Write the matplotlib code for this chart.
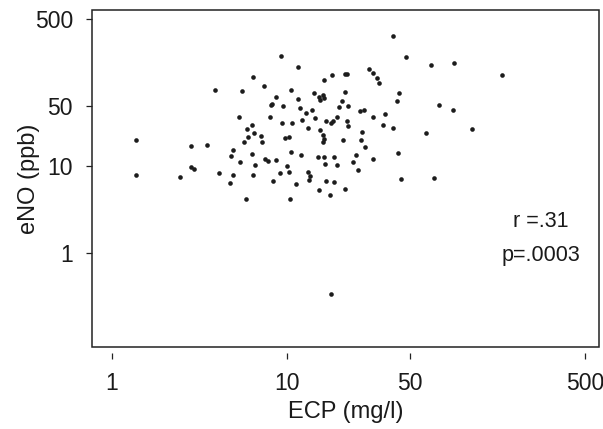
import matplotlib
matplotlib.use("Agg")
import matplotlib.pyplot as plt
from matplotlib.patches import Rectangle

plt.rcParams['font.family'] = ['Liberation Sans', 'DejaVu Sans']

# ECP (mg/l) and eNO (ppb)
ecp = [9.2, 11.6, 6.4, 7.4, 3.9, 5.5, 10.6, 8.6, 11.5, 14.3,
       15.2, 15.4, 16.1, 16.3, 16.3, 18.1, 21.4, 21.9, 21.4, 20.7,
       19.8, 22.4, 8.05, 8.2, 9.5, 11.8, 13.8, 12.9, 5.3, 8.0,
       9.4, 10.7, 12.2, 14.5, 16.6, 17.9, 18.2, 19.2, 21.9, 22.4,
       6.3, 5.9, 6.5, 6.0, 7.1, 7.2, 5.7, 9.7, 10.2, 13.1,
       15.5, 16.0, 16.2, 16.1, 20.8, 1.38, 1.38, 2.85, 3.5, 2.85,
       2.94, 2.45, 4.1, 4.95, 4.8, 5.4, 6.3, 6.6, 7.5, 7.8,
       8.6, 10.5, 12.0, 15.1, 16.2, 18.5, 16.4, 19.4, 10.0, 9.1,
       10.2, 13.2, 13.5, 13.3, 4.95, 6.4, 8.3, 4.7, 11.3, 16.6,
       18.5, 15.2, 17.6, 21.4, 5.8, 10.4, 17.9, 40, 48, 66,
       90, 168, 29.5, 31, 32.8, 33.6, 26.1, 27.6, 43.4, 42.4,
       74, 89, 31, 36, 35.4, 40, 62, 114, 26.9, 26.3,
       27.8, 24.8, 23.9, 25.3, 31.1, 43, 44.6, 69]
eno = [189, 141, 107, 85, 76, 73, 75, 63, 59, 70,
       63, 58, 66, 62, 99, 112, 116, 115, 72, 56,
       48, 50, 51, 53, 50, 47, 45, 41, 37, 37,
       32, 32, 34, 36, 33, 32, 33, 37, 33, 29,
       30, 27, 24, 22, 22.5, 19, 19, 21, 22, 28,
       26, 23, 20.5, 19, 20, 20, 7.9, 17, 17.5, 9.7,
       9.3, 7.5, 8.4, 15.4, 13, 11.3, 13.9, 10.3, 12.2, 11.5,
       11.7, 14.8, 13.5, 12.9, 12.9, 12.9, 10.5, 10.4, 10.1, 8.4,
       8.7, 8.7, 7.8, 7.0, 7.9, 7.9, 6.7, 6.5, 6.2, 6.8,
       6.6, 5.3, 4.7, 5.5, 4.2, 4.2, 0.34, 320, 181, 149,
       154, 112, 131, 118, 103, 92, 43, 45, 70, 56,
       51, 45, 37, 40, 30, 28, 24.5, 27, 24.7, 20,
       16.8, 13.5, 11.1, 9.0, 12.2, 14.2, 7.2, 7.3]

xticks = [1, 10, 50, 500]
yticks = [1, 10, 50, 500]
stats = ["r =.31", "p=.0003"]

fig = plt.figure(figsize=(6.03, 4.29), dpi=100)
ax = fig.add_axes([92.3 / 603, 1 - 347 / 429, (599 - 92.3) / 603, (347 - 10) / 429])

ax.scatter(ecp, eno, s=11, color='#1c1c1c', linewidths=0, zorder=3)

ax.set_xscale('log')
ax.set_yscale('log')
ax.set_xlim(0.775, 602)
ax.set_ylim(0.0824, 635)

ax.set_xticks(xticks)
ax.set_xticklabels([str(t) for t in xticks])
ax.set_yticks(yticks)
ax.set_yticklabels([str(t) for t in yticks])
ax.minorticks_off()

for s in ax.spines.values():
    s.set_visible(False)
ax.spines['bottom'].set_position(('outward', 4.5))
ax.add_patch(Rectangle((0, 0), 1, 1, transform=ax.transAxes, fill=False,
                       edgecolor='#222222', linewidth=1.1, clip_on=False, zorder=4))

ax.tick_params(axis='x', direction='out', length=4.5, width=0.9, colors='#222222',
               labelsize=16.5, pad=9, labelcolor='#1a1a1a')
ax.tick_params(axis='y', direction='out', length=4, width=0.9, colors='#222222',
               labelsize=16.5, pad=10, labelcolor='#1a1a1a')

ax.set_xlabel("ECP (mg/l)", fontsize=17, color='#1a1a1a', labelpad=4)
ax.set_ylabel("eNO (ppb)", fontsize=17, color='#1a1a1a', labelpad=-4)

ax.text(0.8855, 0.357, stats[0], transform=ax.transAxes, ha='center', va='baseline',
        fontsize=15.5, color='#1a1a1a')
ax.text(0.8855, 0.256, stats[1], transform=ax.transAxes, ha='center', va='baseline',
        fontsize=15.5, color='#1a1a1a')

fig.savefig("out.png", dpi=100)
